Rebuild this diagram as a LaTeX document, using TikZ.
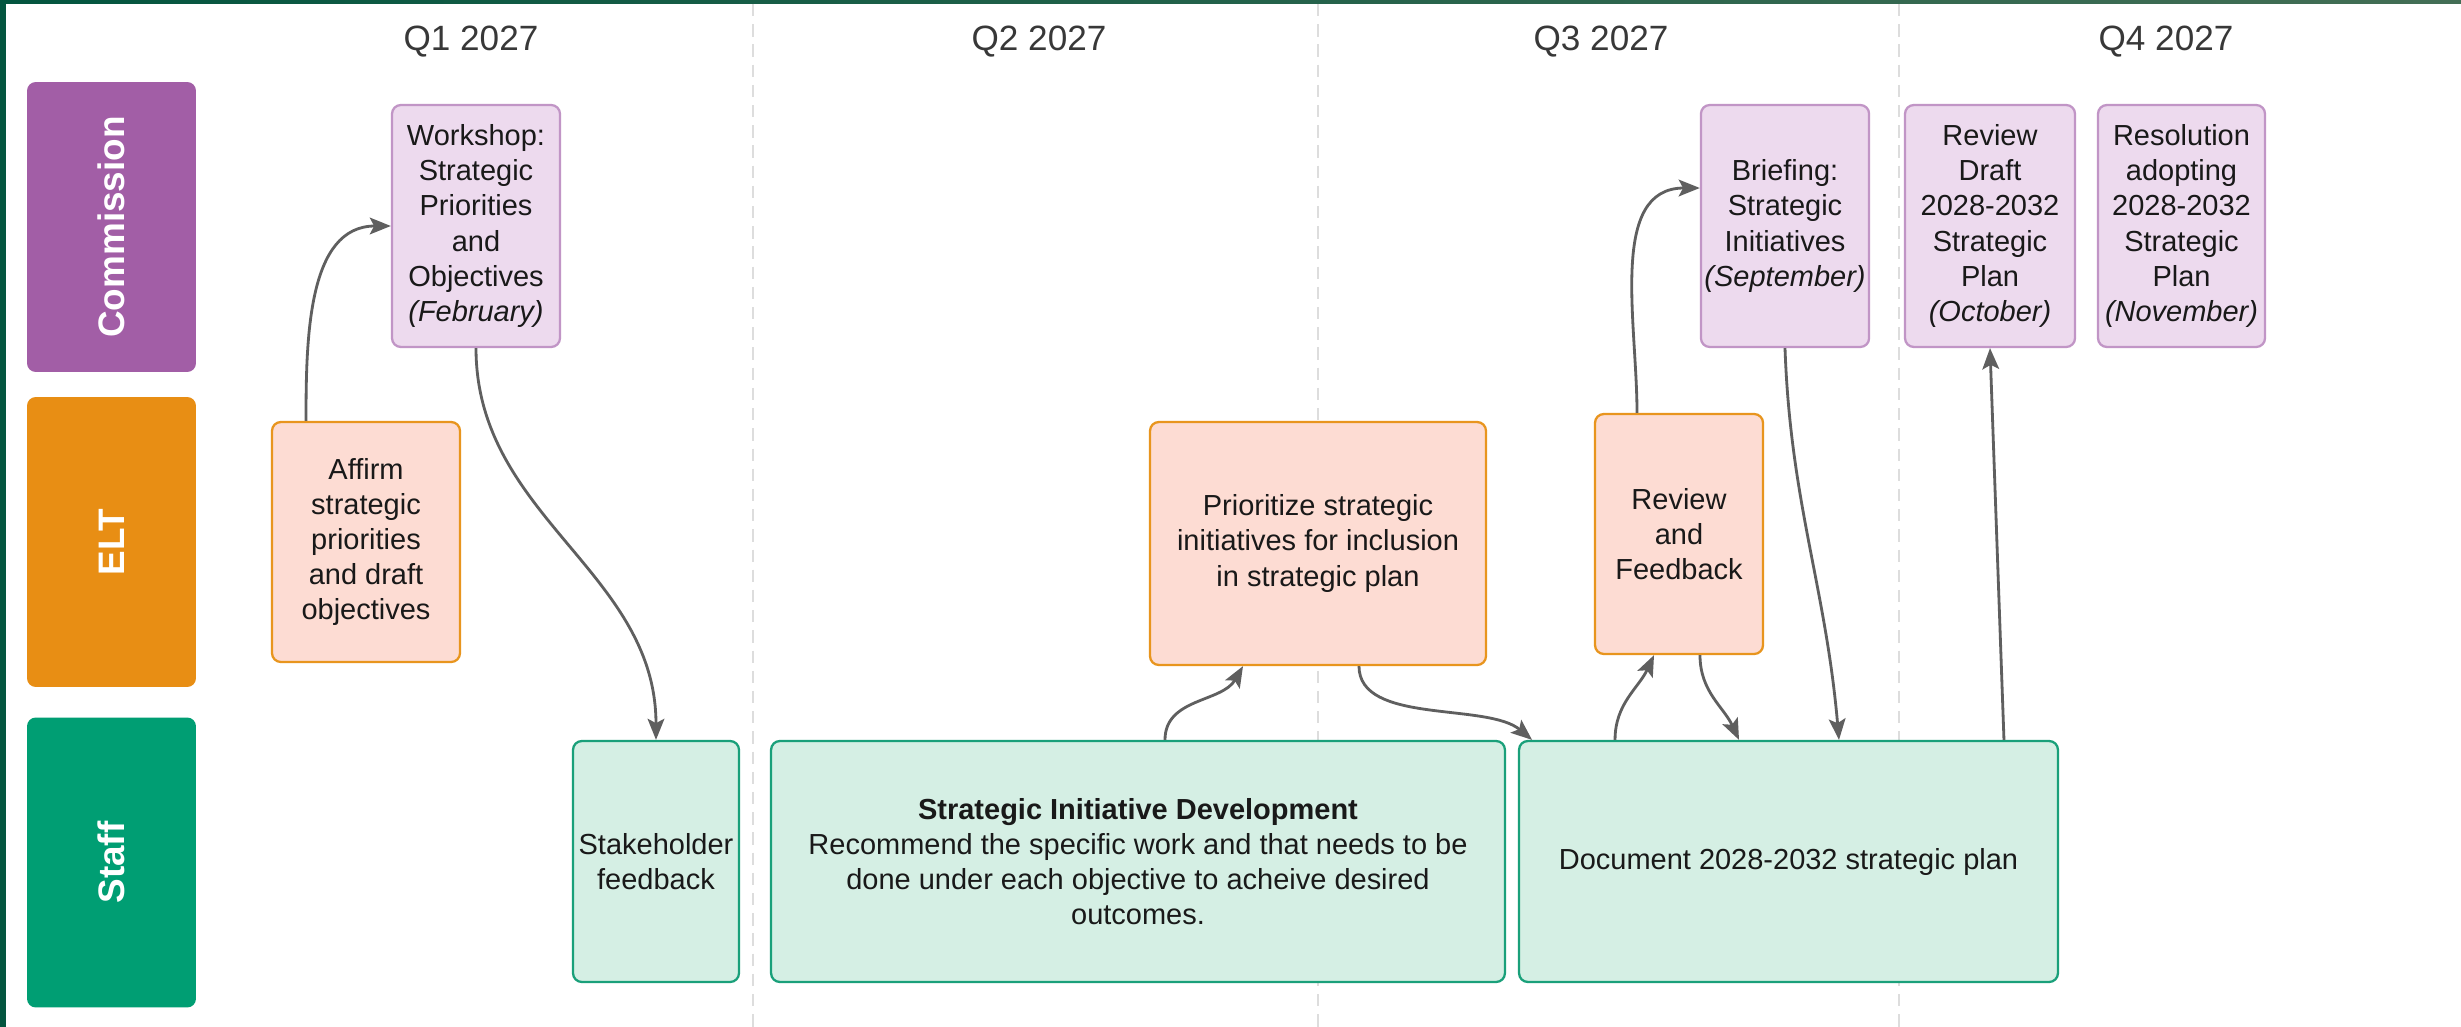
\documentclass[tikz,border=0pt]{standalone}
\usepackage{fontspec}
\setmainfont{Liberation Sans}
\usepackage{tikz}
\usetikzlibrary{arrows.meta}

\definecolor{barleft}{HTML}{03553F}
\definecolor{barright}{HTML}{436E55}
\definecolor{commlane}{HTML}{A25EA6}
\definecolor{eltlane}{HTML}{E88E14}
\definecolor{stafflane}{HTML}{009E73}
\definecolor{commfill}{HTML}{EDDAEE}
\definecolor{commline}{HTML}{C195C6}
\definecolor{eltfill}{HTML}{FDDCD3}
\definecolor{eltline}{HTML}{E8951E}
\definecolor{stafffill}{HTML}{D5EFE4}
\definecolor{staffline}{HTML}{1AA07A}
\definecolor{arrowgray}{HTML}{5F5F5F}
\definecolor{dashgray}{HTML}{DDDDDD}
\definecolor{headgray}{HTML}{383838}

\begin{document}
\begin{tikzpicture}[x=0.02cm, y=-0.02cm, line width=1.3pt,
    >={Stealth[length=12pt,width=9.5pt,inset=2.5pt]},
    lane/.style={rectangle, rounded corners=5pt, rotate=90, inner sep=0pt,
        minimum width=5.8cm, minimum height=3.38cm, text=white,
        font=\fontsize{21}{24}\selectfont\bfseries},
    quarter/.style={text=headgray, font=\fontsize{20}{24}\selectfont},
    task/.style={rectangle, rounded corners=5pt, align=center, inner sep=2pt,
        text=black!90, font=\fontsize{16.5}{20}\selectfont},
    commtask/.style={task, draw=commline, fill=commfill},
    elttask/.style={task, draw=eltline, fill=eltfill},
    stafftask/.style={task, draw=staffline, fill=stafffill,
        minimum height=4.82cm},
    flow/.style={->, color=arrowgray, line width=1.6pt}]

    \useasboundingbox (0,0) rectangle (2461,1027);
    \fill [white] (0,0) rectangle (2461,1027);
    \shade [left color=barleft, right color=barright] (0,0) rectangle (2461,4);
    \fill [barleft] (0,0) rectangle (6,1027);

    % Quarter dividers and headers
    \foreach \xq in {753,1318,1899}
        \draw [dashgray, dash pattern=on 7pt off 4.5pt] (\xq,4) -- (\xq,1027);
    \node [quarter] (q1) at (471,42)  {Q1 2027};
    \node [quarter] (q2) at (1039,42) {Q2 2027};
    \node [quarter] (q3) at (1601,42) {Q3 2027};
    \node [quarter] (q4) at (2166,42) {Q4 2027};

    % Lanes {Commission, ELT, Staff}
    \node [lane, fill=commlane]  (comm)  at (111.5,227)   {Commission};
    \node [lane, fill=eltlane]   (elt)   at (111.5,542)   {ELT};
    \node [lane, fill=stafflane] (staff) at (111.5,862.5) {Staff};

    % Nodes
    \node [commtask, minimum width=3.36cm, minimum height=4.84cm] (wks) at (476,226)
        {Workshop:\\Strategic\\Priorities\\and\\Objectives\\\textit{(February)}};
    \node [elttask, minimum width=3.76cm, minimum height=4.8cm] (aff) at (366,542)
        {Affirm\\strategic\\priorities\\and draft\\objectives};
    \node [stafftask, minimum width=3.32cm] (stk) at (656,861.5)
        {Stakeholder\\feedback};
    \node [stafftask, minimum width=14.68cm] (sid) at (1138,861.5)
        {\textbf{Strategic Initiative Development}\\Recommend the specific work and that needs to be\\done under each objective to acheive desired\\outcomes.};
    \node [elttask, minimum width=6.72cm, minimum height=4.86cm] (pri) at (1318,543.5)
        {Prioritize strategic\\initiatives for inclusion\\in strategic plan};
    \node [elttask, minimum width=3.36cm, minimum height=4.8cm] (rvf) at (1679,534)
        {Review\\and\\Feedback};
    \node [stafftask, minimum width=10.78cm] (doc) at (1788.5,861.5)
        {Document 2028-2032 strategic plan};
    \node [commtask, minimum width=3.36cm, minimum height=4.84cm] (brf) at (1785,226)
        {Briefing:\\Strategic\\Initiatives\\\textit{(September)}};
    \node [commtask, minimum width=3.4cm, minimum height=4.84cm] (rdr) at (1990,226)
        {Review\\Draft\\2028-2032\\Strategic\\Plan\\\textit{(October)}};
    \node [commtask, minimum width=3.34cm, minimum height=4.84cm] (res) at (2181.5,226)
        {Resolution\\adopting\\2028-2032\\Strategic\\Plan\\\textit{(November)}};

    % Paths
    \path [flow] ([xshift=-1.2cm]aff.north)  edge [out=90, in=180]  (wks.west);
    \path [flow] (wks.south)                 edge [out=-90, in=90]  (stk.north);
    \path [flow] ([xshift=0.54cm]sid.north)  edge [out=90, in=-120] ([xshift=-1.5cm]pri.south);
    \path [flow] ([xshift=0.82cm]pri.south)  edge [out=-90, in=140, looseness=0.8] ([xshift=-5.13cm]doc.north);
    \path [flow] ([xshift=-3.47cm]doc.north) edge [out=90, in=-115] ([xshift=-0.5cm]rvf.south);
    \path [flow] ([xshift=0.42cm]rvf.south)  edge [out=-90, in=115] ([xshift=-0.99cm]doc.north);
    \path [flow] ([xshift=-0.84cm]rvf.north) edge [out=90, in=180]  ([yshift=0.76cm]brf.west);
    \path [flow] (brf.south)                 edge [out=-88, in=95]  ([xshift=1.01cm]doc.north);
    \path [flow] ([xshift=4.31cm]doc.north)  edge                   (rdr.south);

\end{tikzpicture}
\end{document}
